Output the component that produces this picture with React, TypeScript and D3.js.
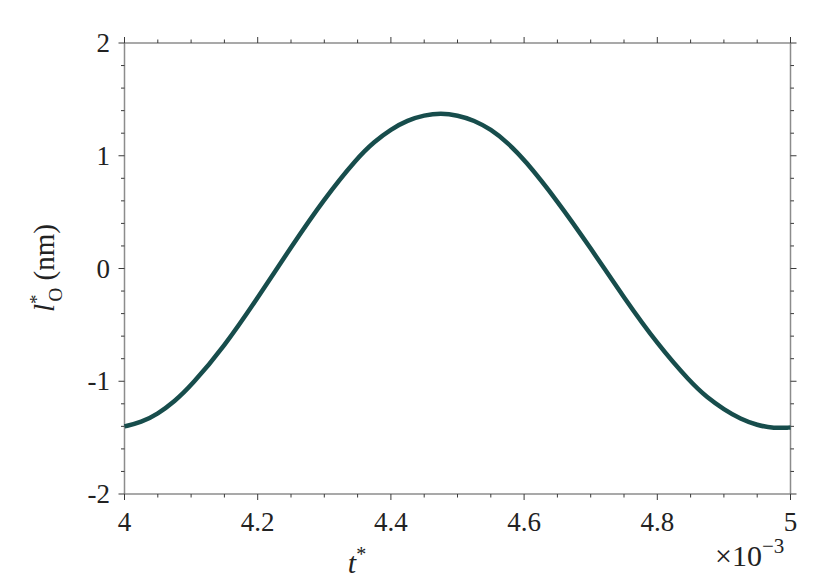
import React from "react";
import * as d3 from "d3";

const tValues = [4.0, 4.025, 4.05, 4.075, 4.1, 4.15, 4.2, 4.25, 4.3, 4.35, 4.375, 4.4, 4.425, 4.45, 4.475, 4.5, 4.525, 4.55, 4.575, 4.6, 4.65, 4.7, 4.75, 4.8, 4.85, 4.875, 4.9, 4.925, 4.95, 4.975, 5.0];
const lValues = [-1.40, -1.365, -1.29, -1.18, -1.04, -0.69, -0.26, 0.19, 0.62, 0.985, 1.125, 1.235, 1.315, 1.36, 1.378, 1.36, 1.314, 1.235, 1.117, 0.97, 0.60, 0.18, -0.26, -0.67, -1.01, -1.145, -1.25, -1.335, -1.39, -1.418, -1.41];

const xMajor = [4, 4.2, 4.4, 4.6, 4.8, 5];
const xMajorLabels = ["4", "4.2", "4.4", "4.6", "4.8", "5"];
const yMajor = [-2, -1, 0, 1, 2];
const yMajorLabels = ["-2", "-1", "0", "1", "2"];

const W = 830, H = 581;
const left = 124.5, right = 790.5, top = 43, bottom = 494;

const FONT = "Liberation Serif, serif";
const tStyle: React.CSSProperties = { fontFamily: FONT };

export default function App() {
  const x = d3.scaleLinear().domain([4, 5]).range([left, right]);
  const y = d3.scaleLinear().domain([-2, 2]).range([bottom, top]);
  const pts = tValues.map((t, i) => [t, lValues[i]] as [number, number]);
  const line = d3.line<[number, number]>().x(d => x(d[0])).y(d => y(d[1])).curve(d3.curveBasis);
  const xMinor = d3.range(0, 21).map(i => 4 + i * 0.05).filter(v => !xMajor.some(m => Math.abs(m - v) < 1e-9));
  const yMinor = d3.range(0, 21).map(i => -2 + i * 0.2).filter(v => !yMajor.some(m => Math.abs(m - v) < 1e-9));
  const axisCol = "#8c8c8c";
  const tickCol = "#3a3a3a";
  return (
    <svg width={W} height={H} style={{ position: "absolute", left: 0, top: 0, background: "#fff" }}>
      <rect x={0} y={0} width={W} height={H} fill="#fff" />
      <line x1={left} x2={right} y1={top} y2={top} stroke={axisCol} strokeWidth={1.5} />
      <line x1={left} x2={right} y1={bottom} y2={bottom} stroke={axisCol} strokeWidth={1.5} />
      <line x1={left} x2={left} y1={top} y2={bottom} stroke={axisCol} strokeWidth={1.5} />
      <line x1={right} x2={right} y1={top} y2={bottom} stroke={axisCol} strokeWidth={1.5} />
      {xMajor.map(v => (
        <g key={"xm" + v}>
          <line x1={x(v)} x2={x(v)} y1={bottom} y2={bottom + 6} stroke={tickCol} strokeWidth={1} />
          <line x1={x(v)} x2={x(v)} y1={top} y2={top - 6} stroke={tickCol} strokeWidth={1} />
        </g>
      ))}
      {xMinor.map(v => (
        <g key={"xn" + v}>
          <line x1={x(v)} x2={x(v)} y1={bottom} y2={bottom + 3.5} stroke={tickCol} strokeWidth={1} />
          <line x1={x(v)} x2={x(v)} y1={top} y2={top - 3.5} stroke={tickCol} strokeWidth={1} />
        </g>
      ))}
      {yMajor.map(v => (
        <g key={"ym" + v}>
          <line x1={left} x2={left - 6} y1={y(v)} y2={y(v)} stroke={tickCol} strokeWidth={1} />
          <line x1={right} x2={right + 6} y1={y(v)} y2={y(v)} stroke={tickCol} strokeWidth={1} />
        </g>
      ))}
      {yMinor.map(v => (
        <g key={"yn" + v}>
          <line x1={left} x2={left - 3.5} y1={y(v)} y2={y(v)} stroke={tickCol} strokeWidth={1} />
          <line x1={right} x2={right + 3.5} y1={y(v)} y2={y(v)} stroke={tickCol} strokeWidth={1} />
        </g>
      ))}
      {xMajor.map((v, i) => (
        <text key={"xl" + v} style={tStyle} x={x(v)} y={531} textAnchor="middle" fontSize={27} fill="#222">{xMajorLabels[i]}</text>
      ))}
      {yMajor.map((v, i) => (
        <text key={"yl" + v} style={tStyle} x={110} y={y(v) + 9} textAnchor="end" fontSize={27} fill="#222">{yMajorLabels[i]}</text>
      ))}
      <path d={line(pts) || ""} fill="none" stroke="#174d4c" strokeWidth={4.5} strokeLinejoin="round" />
      <text style={tStyle} x={357} y={573} textAnchor="middle" fontSize={30} fill="#222">
        <tspan fontStyle="italic">t</tspan>
        <tspan dy={-12} fontSize={20}>*</tspan>
      </text>
      <text style={tStyle} x={715} y={566} fontSize={30} fill="#222">
        <tspan>×10</tspan>
        <tspan dy={-13} fontSize={21}>−3</tspan>
      </text>
      <text style={tStyle} transform={`translate(54, ${268}) rotate(-90)`} textAnchor="middle" fontSize={29} fill="#222">
        <tspan fontStyle="italic">l</tspan>
        <tspan dy={-11} fontSize={19}>*</tspan>
        <tspan dx={-7} dy={19} fontSize={19}>O</tspan>
        <tspan dy={-8}> (nm)</tspan>
      </text>
    </svg>
  );
}
